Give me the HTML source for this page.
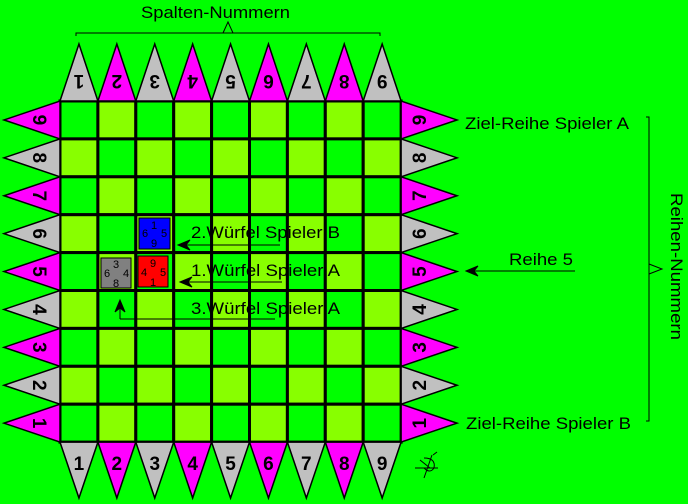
<!DOCTYPE html>
<html><head><meta charset="utf-8"><style>
body{margin:0;background:#00ff00;width:688px;height:504px;overflow:hidden}
svg{display:block}
text{font-family:"Liberation Sans",sans-serif}
</style></head><body>
<svg width="688" height="504" viewBox="0 0 688 504" xmlns="http://www.w3.org/2000/svg">
<rect width="688" height="504" fill="#00ff00"/>
<g id="cells" stroke="#000" stroke-width="3">
</g>
<script>
(function(){
var ns="http://www.w3.org/2000/svg",svg=document.querySelector('svg'),g=document.getElementById('cells');
function el(n,a,p){var e=document.createElementNS(ns,n);for(var k in a)e.setAttribute(k,a[k]);(p||svg).appendChild(e);return e;}
var x0=60,y0=101,s=37.9;
for(var r=0;r<9;r++)for(var c=0;c<9;c++){
 el('rect',{x:x0+c*s,y:y0+r*s,width:s,height:s,fill:((r+c)%2==0)?'#00ff00':'#88ff00'},g);
}
var tg=el('g',{stroke:'#000','stroke-width':'1.5'});
var G='#c0c0c0',M='#ff00ff';
for(var i=0;i<9;i++){
 var col=(i%2==0)?G:M, rc=(i%2==0)?M:G;
 var cx=x0+i*s+s/2;
 el('polygon',{points:(x0+i*s)+','+y0+' '+(x0+(i+1)*s)+','+y0+' '+cx+',44',fill:col},tg);
 el('polygon',{points:(x0+i*s)+','+(y0+9*s)+' '+(x0+(i+1)*s)+','+(y0+9*s)+' '+cx+',498',fill:col},tg);
 var cy=y0+i*s+s/2;
 el('polygon',{points:'60,'+(y0+i*s)+' 60,'+(y0+(i+1)*s)+' 4,'+cy,fill:rc},tg);
 el('polygon',{points:(x0+9*s)+','+(y0+i*s)+' '+(x0+9*s)+','+(y0+(i+1)*s)+' 457,'+cy,fill:rc},tg);
 var n=String(i+1), rn=String(9-i);
 var st={'font-size':'19','font-weight':'bold','text-anchor':'middle',fill:'#000',stroke:'none'};
 var t=el('text',Object.assign({x:cx,y:87,transform:'rotate(180 '+cx+' 81)'},st));t.textContent=n;
 t=el('text',Object.assign({x:cx,y:470},st));t.textContent=n;
 t=el('text',Object.assign({x:40,y:cy+7,transform:'rotate(90 40 '+cy+')'},st));t.textContent=rn;
 t=el('text',Object.assign({x:419,y:cy+7,transform:'rotate(-90 419 '+cy+')'},st));t.textContent=rn;
}
})();
</script>
<g font-size="11" text-anchor="middle" fill="#000" stroke="none">
<rect x="139" y="218" width="31" height="31" fill="#0000ff" stroke="#000"/>
<text x="154" y="229">1</text><text x="145" y="237">6</text><text x="164" y="237">5</text><text x="154" y="247">9</text>
<rect x="138" y="256" width="30" height="31" fill="#ff0000" stroke="#000"/>
<text x="153" y="267">9</text><text x="144" y="276">4</text><text x="163" y="276">5</text><text x="153" y="286">1</text>
<rect x="101" y="258" width="30" height="30" fill="#808080" stroke="#000"/>
<text x="116" y="268">3</text><text x="107" y="277">6</text><text x="126" y="277">4</text><text x="116" y="287">8</text>
</g>
<g stroke="#000" stroke-width="1" fill="#000">
<line x1="180" y1="245" x2="280" y2="245"/><polygon points="178,245 190,240 186,245 190,250"/>
<line x1="182" y1="282" x2="282" y2="282"/><polygon points="180,282 192,277 188,282 192,287"/>
<line x1="120" y1="319" x2="275" y2="319"/><line x1="120" y1="319" x2="120" y2="302"/><polygon points="120,300 115,312 120,308 125,312"/>
<line x1="468" y1="271" x2="575" y2="271"/><polygon points="466,271 478,266 474,271 478,276"/>
</g>
<g font-size="17" fill="#000" lengthAdjust="spacingAndGlyphs">
<text x="191" y="238" textLength="149" lengthAdjust="spacingAndGlyphs">2.Würfel Spieler B</text>
<text x="191" y="276" textLength="149" lengthAdjust="spacingAndGlyphs">1.Würfel Spieler A</text>
<text x="191" y="314" textLength="149" lengthAdjust="spacingAndGlyphs">3.Würfel Spieler A</text>
<text x="509" y="265" textLength="64" lengthAdjust="spacingAndGlyphs">Reihe 5</text>
<text x="465" y="129" textLength="164" lengthAdjust="spacingAndGlyphs">Ziel-Reihe Spieler A</text>
<text x="466" y="429" textLength="165" lengthAdjust="spacingAndGlyphs">Ziel-Reihe Spieler B</text>
<text x="141" y="18" textLength="149" lengthAdjust="spacingAndGlyphs">Spalten-Nummern</text>
<text x="0" y="0" transform="translate(671,193) rotate(90)" textLength="147" lengthAdjust="spacingAndGlyphs">Reihen-Nummern</text>
</g>
<g stroke="#000" stroke-width="1" fill="none">
<polyline points="76,36 76,33 380,33 380,36"/>
<polyline points="223,33 228,22 233,33"/>
<polyline points="646,117 649,117 649,421 646,421"/>
<polyline points="649,264 662,269 649,274"/>
<path d="M415,468 L438,468 M420,460 L430,468 M432,455 L424,478 M424,458 Q436,458 434,468 Q430,474 424,468 M433,455 L437,452"/>
</g>
</svg>
</body></html>
